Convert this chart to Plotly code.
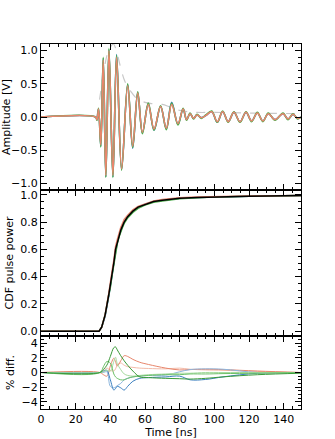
import plotly.graph_objects as go
from plotly.subplots import make_subplots

# ---------------- data ----------------
t_wave = [0, 31.5, 32.3, 33.2, 34.5, 35.9, 37.4, 39.2, 41.5, 43.6, 46.5, 50.0, 52.9, 55.8,
          58.5, 61.9, 65.2, 69.0, 72.3, 75.4, 79.0, 82.0, 84.0, 86.0, 88.0, 90.0, 92.5,
          95.0, 98.5, 101.7, 104.8, 108.0, 111.3, 114.8, 118.3, 121.5, 124.8, 128.0,
          131.1, 135.0, 139.6, 142.5, 145.4, 148.0, 150]
wave_blue = [0, 0, -0.04, 0.12, -0.44, 0.88, -0.90, 1.01, -0.90, 0.94, -0.79, 0.49, -0.47,
             0.37, -0.24, 0.20, -0.20, 0.16, -0.18, 0.22, -0.11, 0.12, -0.04, 0.05, -0.02,
             0.03, -0.01, 0.02, 0.08, -0.08, 0.08, -0.07, 0.07, -0.07, 0.07, -0.06, 0.06,
             -0.06, 0.05, -0.04, 0.05, -0.03, 0.04, -0.02, 0.0]
wave_green = [0, 0, -0.05, 0.13, -0.45, 0.90, -0.91, 1.03, -0.91, 0.93, -0.80, 0.50, -0.46,
              0.38, -0.25, 0.21, -0.20, 0.17, -0.19, 0.21, -0.12, 0.13, -0.05, 0.06, -0.03,
              0.04, -0.02, 0.03, 0.09, -0.08, 0.09, -0.08, 0.08, -0.08, 0.08, -0.07, 0.07,
              -0.07, 0.06, -0.05, 0.06, -0.04, 0.05, -0.03, 0.0]
wave_orange = [0, 0, -0.04, 0.12, -0.42, 0.86, -0.88, 1.00, -0.88, 0.90, -0.78, 0.47, -0.44,
               0.36, -0.23, 0.19, -0.18, 0.16, -0.17, 0.19, -0.10, 0.12, -0.04, 0.05, -0.02,
               0.03, -0.01, 0.02, 0.08, -0.07, 0.08, -0.07, 0.07, -0.07, 0.07, -0.06, 0.06,
               -0.06, 0.05, -0.04, 0.05, -0.03, 0.04, -0.02, 0.0]

t_env = [31.5, 32.5, 34, 36, 38, 40, 41.7, 43.5, 45.6, 48.5, 52, 55.2, 60, 64.6, 70, 74.4,
         80, 90, 100, 120, 150]
envelope = [0.0, 0.05, 0.30, 0.65, 0.92, 1.05, 1.10, 1.00, 0.78, 0.53, 0.38, 0.28, 0.22,
            0.20, 0.19, 0.15, 0.10, 0.07, 0.07, 0.06, 0.05]

t_cdf = [0, 33.5, 35, 37, 39, 40, 41, 42, 43, 44, 45, 46, 47, 48, 50, 53, 56, 60, 65, 70,
         80, 90, 100, 120, 150]
cdf_black = [0, 0, 0.03, 0.12, 0.26, 0.33, 0.42, 0.50, 0.60, 0.65, 0.70, 0.74, 0.77, 0.80,
             0.84, 0.88, 0.91, 0.93, 0.95, 0.96, 0.975, 0.98, 0.985, 0.99, 0.995]
cdf_orange = [0, 0, 0.03, 0.12, 0.27, 0.34, 0.44, 0.52, 0.62, 0.67, 0.72, 0.76, 0.79, 0.82,
              0.85, 0.89, 0.915, 0.935, 0.955, 0.965, 0.978, 0.983, 0.987, 0.991, 0.995]
cdf_green = [0, 0, 0.03, 0.12, 0.26, 0.32, 0.41, 0.49, 0.59, 0.64, 0.69, 0.73, 0.76, 0.79,
             0.83, 0.87, 0.90, 0.925, 0.945, 0.955, 0.97, 0.978, 0.984, 0.99, 0.995]
cdf_blue = [0, 0, 0.03, 0.11, 0.25, 0.32, 0.41, 0.50, 0.59, 0.65, 0.70, 0.74, 0.77, 0.80,
            0.84, 0.88, 0.91, 0.93, 0.95, 0.96, 0.975, 0.98, 0.985, 0.99, 0.995]

t_diff = [0, 34, 36, 38, 40, 42, 43, 44, 46, 48, 50, 53, 57, 62, 72, 80, 86, 95, 105, 125, 150]
diff_orange = [0, 0, -0.3, -0.5, 0.9, 1.95, 1.5, 0.9, 1.6, 2.3, 2.2, 1.8, 1.4, 1.1, 0.6, 0.35,
               0.4, 0.45, 0.4, 0.2, 0.0]
diff_orange_l = [0, 0, 0.2, 0.6, 0.3, 0.2, 0.5, 1.0, 1.3, 1.0, 0.8, 0.7, 0.6, 0.55, 0.5, 0.6,
                 0.45, 0.35, 0.3, 0.15, 0.0]
diff_green = [0, 0, 0.4, 1.0, 2.2, 3.4, 3.5, 3.1, 2.3, 1.6, 1.0, 0.2, -0.6, -0.7, -0.8, -0.85,
              -0.9, -0.8, -0.6, -0.3, -0.1]
diff_green_m = [0, 0, 0.8, 1.5, 1.3, -0.2, -0.6, -0.8, -1.0, -1.0, -0.8, -0.6, -0.5, -0.4,
                -0.3, -0.3, -0.2, -0.2, -0.15, -0.1, 0.0]
diff_green_l = [0, 0, 0.1, 0.3, 0.2, 1.5, 2.1, 1.2, 0.4, -0.2, -0.4, -0.5, -0.4, -0.3, -0.2,
                -0.1, -0.1, 0.0, 0.0, 0.0, 0.0]
diff_blue = [0, 0, 0.2, 0.3, -1.0, -2.4, -2.2, -1.9, -2.1, -2.4, -1.9, -1.2, -0.8, -0.7, -0.6,
             -0.5, -1.0, -0.95, -0.6, -0.1, 0.0]
diff_blue_l = [0, 0, 0.0, 0.1, -1.9, -2.1, -2.0, -1.8, -1.5, -1.0, -0.8, -0.6, -0.5, -0.4,
               -0.35, 0.1, 0.4, 0.5, 0.45, 0.0, 0.0]

# ---------------- figure ----------------
fig = make_subplots(rows=3, cols=1, shared_xaxes=True, vertical_spacing=0,
                    row_heights=[0.4, 0.4, 0.2])

BLUE = "#3b7fc0"
GREEN = "#4cae4a"
ORANGE = "#e8866c"

# top panel
fig.add_trace(go.Scatter(x=t_env, y=envelope, mode="lines", line=dict(color="#c8c8c8", width=1.2, dash="dash", shape="spline")), 1, 1)
fig.add_trace(go.Scatter(x=t_wave, y=wave_blue, mode="lines", line=dict(color=BLUE, width=1.6, shape="spline")), 1, 1)
fig.add_trace(go.Scatter(x=t_wave, y=wave_green, mode="lines", line=dict(color=GREEN, width=1.6, shape="spline")), 1, 1)
fig.add_trace(go.Scatter(x=t_wave, y=wave_orange, mode="lines", line=dict(color=ORANGE, width=1.5, shape="spline")), 1, 1)

# middle panel
fig.add_trace(go.Scatter(x=t_cdf, y=cdf_blue, mode="lines", line=dict(color=BLUE, width=1.5)), 2, 1)
fig.add_trace(go.Scatter(x=t_cdf, y=cdf_green, mode="lines", line=dict(color=GREEN, width=1.5)), 2, 1)
fig.add_trace(go.Scatter(x=t_cdf, y=cdf_orange, mode="lines", line=dict(color=ORANGE, width=1.5)), 2, 1)
fig.add_trace(go.Scatter(x=t_cdf, y=cdf_black, mode="lines", line=dict(color="black", width=1.5)), 2, 1)

# bottom panel
diff_series = [
    (diff_orange_l, "#f3bba9"), (diff_orange, ORANGE),
    (diff_blue_l, "#8cb6de"), (diff_blue, BLUE),
    (diff_green_l, "#a6db9f"), (diff_green_m, "#6cc067"), (diff_green, "#3a9a38"),
]
for ys, col in diff_series:
    fig.add_trace(go.Scatter(x=t_diff, y=ys, mode="lines", line=dict(color=col, width=1.0, shape="spline")), 3, 1)

FONT = dict(family="DejaVu Sans", size=11, color="black")
axis_common = dict(showline=True, linecolor="black", linewidth=1, mirror="ticks",
                   ticks="inside", ticklen=6, tickwidth=1, tickcolor="black",
                   showgrid=False, zeroline=False, automargin=False,
                   tickfont=FONT)

fig.update_xaxes(range=[0, 150], dtick=20, tick0=0,
                 minor=dict(ticks="inside", ticklen=3, dtick=5, tickcolor="black", showgrid=False),
                 **axis_common)
fig.update_xaxes(showticklabels=False, row=1, col=1)
fig.update_xaxes(showticklabels=False, row=2, col=1)
fig.update_xaxes(title=dict(text="Time [ns]", standoff=0, font=FONT), row=3, col=1)

fig.update_yaxes(range=[-1.1, 1.1], dtick=0.5, tick0=0, tickformat=".1f",
                 minor=dict(ticks="inside", ticklen=3, dtick=0.1, tickcolor="black", showgrid=False),
                 title=dict(text="Amplitude [V]", standoff=4, font=FONT),
                 row=1, col=1, **axis_common)
fig.update_yaxes(range=[-0.035, 1.035], dtick=0.2, tick0=0, tickformat=".1f",
                 minor=dict(ticks="inside", ticklen=3, dtick=0.05, tickcolor="black", showgrid=False),
                 title=dict(text="CDF pulse power", standoff=4, font=FONT),
                 row=2, col=1, **axis_common)
fig.update_yaxes(range=[-5, 5], dtick=2, tick0=0,
                 minor=dict(ticks="inside", ticklen=3, dtick=0.5, tickcolor="black", showgrid=False),
                 title=dict(text="% diff.", standoff=4, font=FONT),
                 row=3, col=1, **axis_common)

fig.update_layout(width=335, height=439, showlegend=False,
                  margin=dict(l=41, r=34, t=44, b=30),
                  paper_bgcolor="white", plot_bgcolor="white",
                  font=FONT)

fig.write_html("out.html", config={"displayModeBar": False},
               post_script="document.body.style.margin='0px';")
